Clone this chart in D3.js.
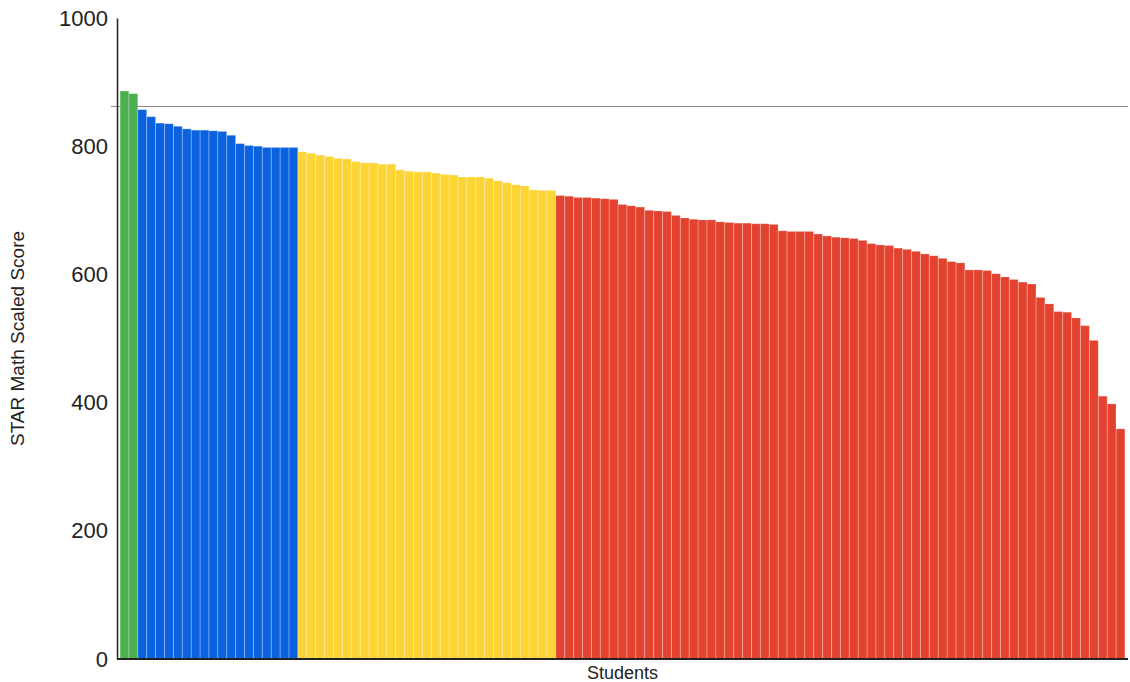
<!DOCTYPE html>
<html lang="en">
<head>
    <meta charset="UTF-8">
    <script src="https://d3js.org/d3.v7.min.js"></script>
    <title>STAR Math Scaled Score</title>
    <style>
        body { margin: 0; background: #fff; }
        svg { font-family: Arial, "Liberation Sans", sans-serif; }
    </style>
</head>
<body>
    <div id="chart"></div>
    <script>
        // Scores grouped by band, sorted high to low
        const greenScores = [886, 882];
        const blueScores = [857, 846, 836, 835, 831, 827, 825, 825, 824, 823, 817, 804, 801, 800, 798, 798, 798, 798];
        const yellowScores = [791, 789, 786, 784, 781, 780, 776, 774, 774, 772, 772, 763, 761, 760, 760, 758, 756, 755,
            752, 752, 752, 750, 746, 743, 740, 738, 732, 731, 731];
        const redScores = [723, 722, 720, 720, 719, 718, 717, 709, 707, 705, 700, 699, 698, 692, 688, 686, 685, 685,
            682, 681, 680, 680, 679, 679, 678, 668, 667, 667, 667, 663, 660, 658, 657, 656, 653, 648, 646, 645,
            641, 639, 636, 632, 629, 625, 620, 618, 607, 607, 606, 601, 596, 592, 588, 585, 564, 554, 542, 541,
            532, 520, 497, 410, 398, 359];
        const yTicks = [0, 200, 400, 600, 800, 1000];
        const benchmark = 863;

        const groups = [
            { scores: greenScores, color: "#4caf50" },
            { scores: blueScores, color: "#0a62e0" },
            { scores: yellowScores, color: "#fcd535" },
            { scores: redScores, color: "#e3422f" }
        ];

        const data = [];
        groups.forEach(g => g.scores.forEach(s => data.push({ id: data.length, score: s, color: g.color })));

        const width = 1130, height = 682;
        const margin = { top: 18, right: 2, bottom: 23, left: 117 };

        const svg = d3.select("#chart")
            .append("svg")
            .attr("width", width)
            .attr("height", height);

        const x = d3.scaleBand()
            .domain(data.map(d => d.id))
            .range([margin.left, width - margin.right])
            .paddingInner(0.02)
            .paddingOuter(0.35);

        const y = d3.scaleLinear()
            .domain([0, 1000])
            .range([height - margin.bottom, margin.top]);

        // Benchmark line (behind the bars)
        svg.append("line")
            .attr("x1", margin.left - 6)
            .attr("x2", width - margin.right)
            .attr("y1", Math.round(y(benchmark)) + 0.5)
            .attr("y2", Math.round(y(benchmark)) + 0.5)
            .attr("stroke", "#8a8a8a")
            .attr("stroke-width", 1);

        // Bars (thin light edge like the original)
        svg.selectAll(".bar")
            .data(data)
            .enter()
            .append("rect")
            .attr("class", "bar")
            .attr("x", d => x(d.id))
            .attr("y", d => y(d.score))
            .attr("width", x.bandwidth())
            .attr("height", d => y(0) - y(d.score))
            .attr("fill", d => d.color)
            .attr("stroke", "#fff")
            .attr("stroke-opacity", 0.18)
            .attr("stroke-width", 1);

        // Y axis
        const yAxis = svg.append("g")
            .attr("transform", `translate(${margin.left},0)`)
            .call(d3.axisLeft(y).tickValues(yTicks).tickFormat(d3.format("d")).tickSize(0).tickPadding(9));
        yAxis.select(".domain").attr("stroke", "#222").attr("stroke-width", 1.5);
        yAxis.selectAll("text")
            .style("font-size", "22px")
            .attr("fill", "#222");

        // X axis line
        svg.append("line")
            .attr("x1", margin.left)
            .attr("x2", width - margin.right)
            .attr("y1", y(0))
            .attr("y2", y(0))
            .attr("stroke", "#222")
            .attr("stroke-width", 2);

        // Axis titles
        svg.append("text")
            .attr("x", (margin.left + width - margin.right) / 2)
            .attr("y", 679)
            .attr("text-anchor", "middle")
            .style("font-size", "18px")
            .attr("fill", "#222")
            .text("Students");

        svg.append("text")
            .attr("transform", `translate(24,${(margin.top + height - margin.bottom) / 2}) rotate(-90)`)
            .attr("text-anchor", "middle")
            .style("font-size", "19px")
            .attr("fill", "#222")
            .text("STAR Math Scaled Score");
    </script>
</body>
</html>
